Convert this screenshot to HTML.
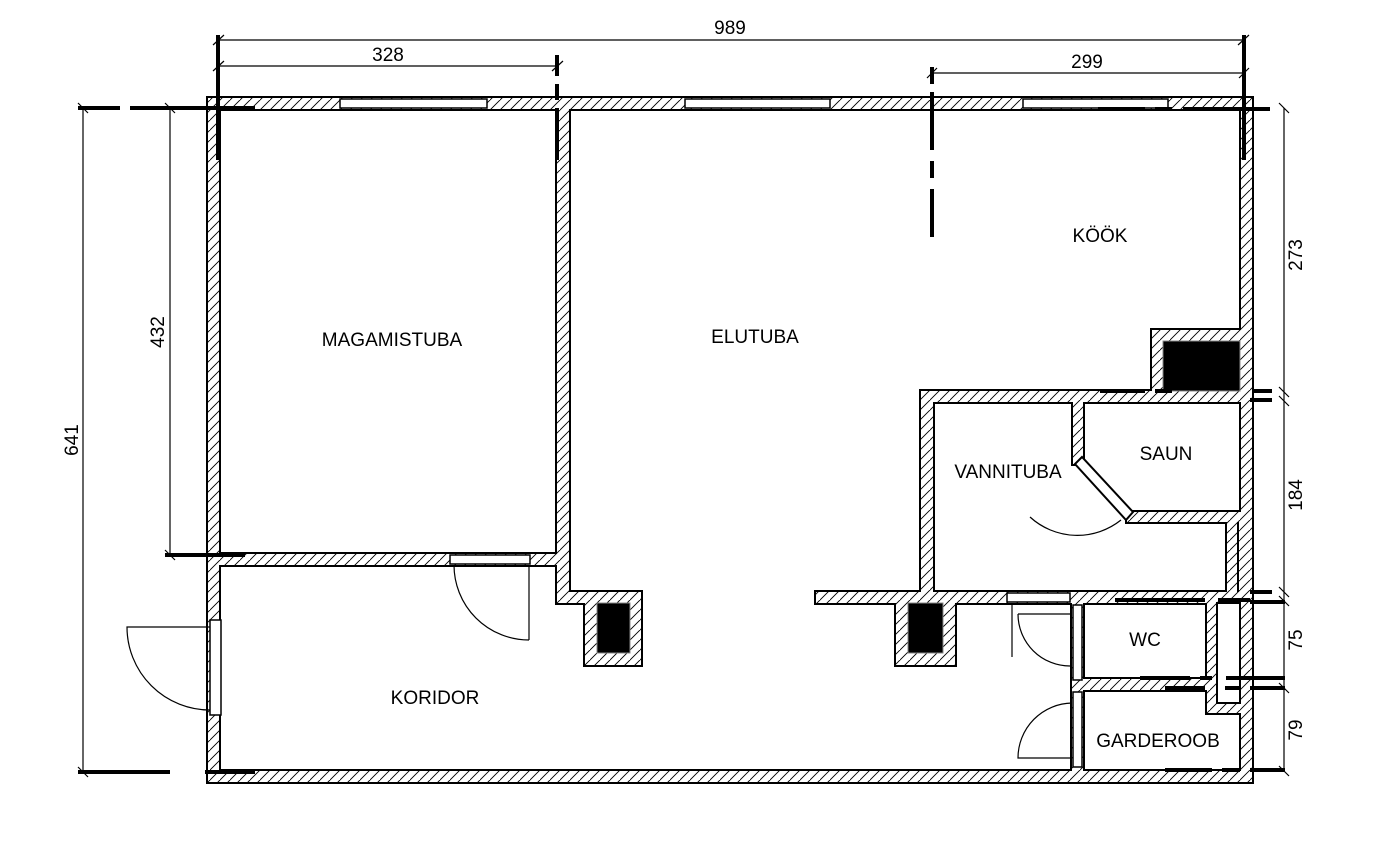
<!DOCTYPE html>
<html><head><meta charset="utf-8"><style>
html,body{margin:0;padding:0;background:#fff;}
svg{display:block;}
text{font-family:"Liberation Sans","DejaVu Sans",sans-serif;font-size:19px;fill:#000;}
</style></head><body>
<svg width="1378" height="849" viewBox="0 0 1378 849" xmlns="http://www.w3.org/2000/svg">
<defs>
<pattern id="h" width="10" height="10" patternUnits="userSpaceOnUse">
<rect width="10" height="10" fill="#fff"/>
<path d="M-2 12 L12 -2 M-7 7 L3 -3 M8 13 L13 8" stroke="#000" stroke-width="0.9"/>
</pattern>
<g id="walls">
<rect x="208" y="98" width="1044" height="11"/>
<rect x="208" y="98" width="11" height="684"/>
<rect x="208" y="771" width="1044" height="11"/>
<rect x="1241" y="98" width="11" height="684"/>
<rect x="208" y="554" width="361" height="11"/>
<rect x="557" y="98" width="12" height="505"/>
<rect x="557" y="592" width="84" height="11"/>
<rect x="585" y="592" width="56" height="73"/>
<rect x="816" y="592" width="436" height="11"/>
<rect x="896" y="592" width="59" height="73"/>
<rect x="921" y="392" width="12" height="211"/>
<rect x="921" y="391" width="331" height="11"/>
<rect x="1152" y="330" width="100" height="72"/>
<rect x="1073" y="402" width="10" height="62"/>
<rect x="1127" y="512" width="125" height="10"/>
<rect x="1227" y="512" width="25" height="91"/>
<rect x="1072" y="592" width="11" height="190"/>
<rect x="1072" y="679" width="145" height="11"/>
<rect x="1207" y="592" width="45" height="11"/>
<rect x="1207" y="592" width="10" height="121"/>
<rect x="1207" y="703" width="45" height="10"/>
</g>
</defs>

<use href="#walls" stroke="#000" stroke-width="4" fill="none"/>
<use href="#walls" fill="url(#h)" stroke="none"/>
<path d="M1075 464 L1082 457 L1133 512 L1126 520 Z" fill="#fff" stroke="#000" stroke-width="2"/>
<path d="M1217 603 H1240 V703 H1217 Z" fill="#fff" stroke="#000" stroke-width="2"/>
<path d="M1238 522 V592" stroke="#000" stroke-width="2"/>

<!-- chimneys -->
<rect x="1163" y="341" width="77" height="50" fill="#000" stroke="#888" stroke-width="1"/>
<rect x="597" y="603" width="33" height="50" fill="#000" stroke="#888" stroke-width="1"/>
<rect x="908" y="603" width="35" height="50" fill="#000" stroke="#888" stroke-width="1"/>

<!-- windows & openings -->
<g fill="#fff" stroke="#000" stroke-width="1.5">
<rect x="340" y="99" width="147" height="9"/>
<rect x="685" y="99" width="145" height="9"/>
<rect x="1023" y="99" width="145" height="9"/>
<rect x="450" y="555" width="80" height="9"/>
<rect x="210" y="620" width="11" height="95"/>
<rect x="1007" y="593" width="63" height="9"/>
<rect x="1073" y="605" width="9" height="75"/>
<rect x="1073" y="692" width="9" height="75"/>
</g>

<!-- doors -->
<g fill="none" stroke="#000" stroke-width="1.2">
<path d="M529 565 V640 M454 565 A75 75 0 0 0 529 640"/>
<path d="M210 627 H127 A83 83 0 0 0 210 710"/>
<path d="M1030 517 A70 70 0 0 0 1121 520"/>
<path d="M1012 603 V657 M1018 614 H1070 M1018 614 A52 52 0 0 0 1070 666"/>
<path d="M1072 703 A55 55 0 0 0 1018 758 H1072"/>
</g>

<!-- dimension lines -->
<g stroke="#000" stroke-width="1.2" fill="none">
<path d="M219 40 H1244"/>
<path d="M219 66 H557"/>
<path d="M932 73 H1244"/>
<path d="M83 108 V772"/>
<path d="M170 108 V555"/>
<path d="M1284 108 V772"/>
<path d="M213 45 L224 35 M1238 45 L1249 35 M213 71 L224 61 M552 71 L563 61 M927 78 L937 68 M1239 78 L1249 68"/>
<path d="M78 103 L88 113 M165 103 L175 113 M78 767 L88 777 M165 550 L175 560 M1279 103 L1289 113 M1279 387 L1289 397 M1279 396 L1289 406 M1279 587 L1289 597 M1279 596 L1289 606 M1279 683 L1289 693 M1279 766 L1289 776"/>
</g>
<g stroke="#000" stroke-width="4" fill="none">
<path d="M218 35 V160"/>
<path d="M1244 35 V160"/>
<path d="M557 55 V76 M557 84 V100 M557 108 V160"/>
<path d="M932 67 V84 M932 92 V150 M932 161 V178 M932 189 V237"/>
<path d="M78 108 H120 M130 108 H255"/>
<path d="M78 772 H170 M205 772 H255"/>
<path d="M165 555 H245"/>
<path d="M1098 109 H1145 M1155 109 H1172 M1183 109 H1270"/>
<path d="M1100 391 H1145 M1155 391 H1172 M1252 391 H1272 M1250 400 H1272"/>
<path d="M1115 600 H1205 M1218 600 H1250 M1250 592 H1272 M1250 602 H1285"/>
<path d="M1140 678 H1190 M1200 678 H1212 M1226 678 H1285"/>
<path d="M1165 688 H1205 M1225 688 H1240 M1250 688 H1285"/>
<path d="M1165 770 H1212 M1222 770 H1240 M1250 770 H1285"/>
</g>
<g>
<text x="730" y="34" text-anchor="middle" font-size="17">989</text>
<text x="388" y="61" text-anchor="middle" font-size="17">328</text>
<text x="1087" y="68" text-anchor="middle" font-size="17">299</text>
<text transform="translate(78,440) rotate(-90)" text-anchor="middle" font-size="17">641</text>
<text transform="translate(164,332) rotate(-90)" text-anchor="middle" font-size="17">432</text>
<text transform="translate(1302,255) rotate(-90)" text-anchor="middle" font-size="17">273</text>
<text transform="translate(1302,495) rotate(-90)" text-anchor="middle" font-size="17">184</text>
<text transform="translate(1302,640) rotate(-90)" text-anchor="middle" font-size="17">75</text>
<text transform="translate(1302,730) rotate(-90)" text-anchor="middle" font-size="17">79</text>
</g>
<!-- labels -->
<g text-anchor="middle">
<text x="392" y="346">MAGAMISTUBA</text>
<text x="755" y="343">ELUTUBA</text>
<text x="1100" y="242">KÖÖK</text>
<text x="1008" y="478">VANNITUBA</text>
<text x="1166" y="460">SAUN</text>
<text x="1145" y="646">WC</text>
<text x="435" y="704">KORIDOR</text>
<text x="1158" y="747">GARDEROOB</text>
</g>
</svg>
</body></html>
